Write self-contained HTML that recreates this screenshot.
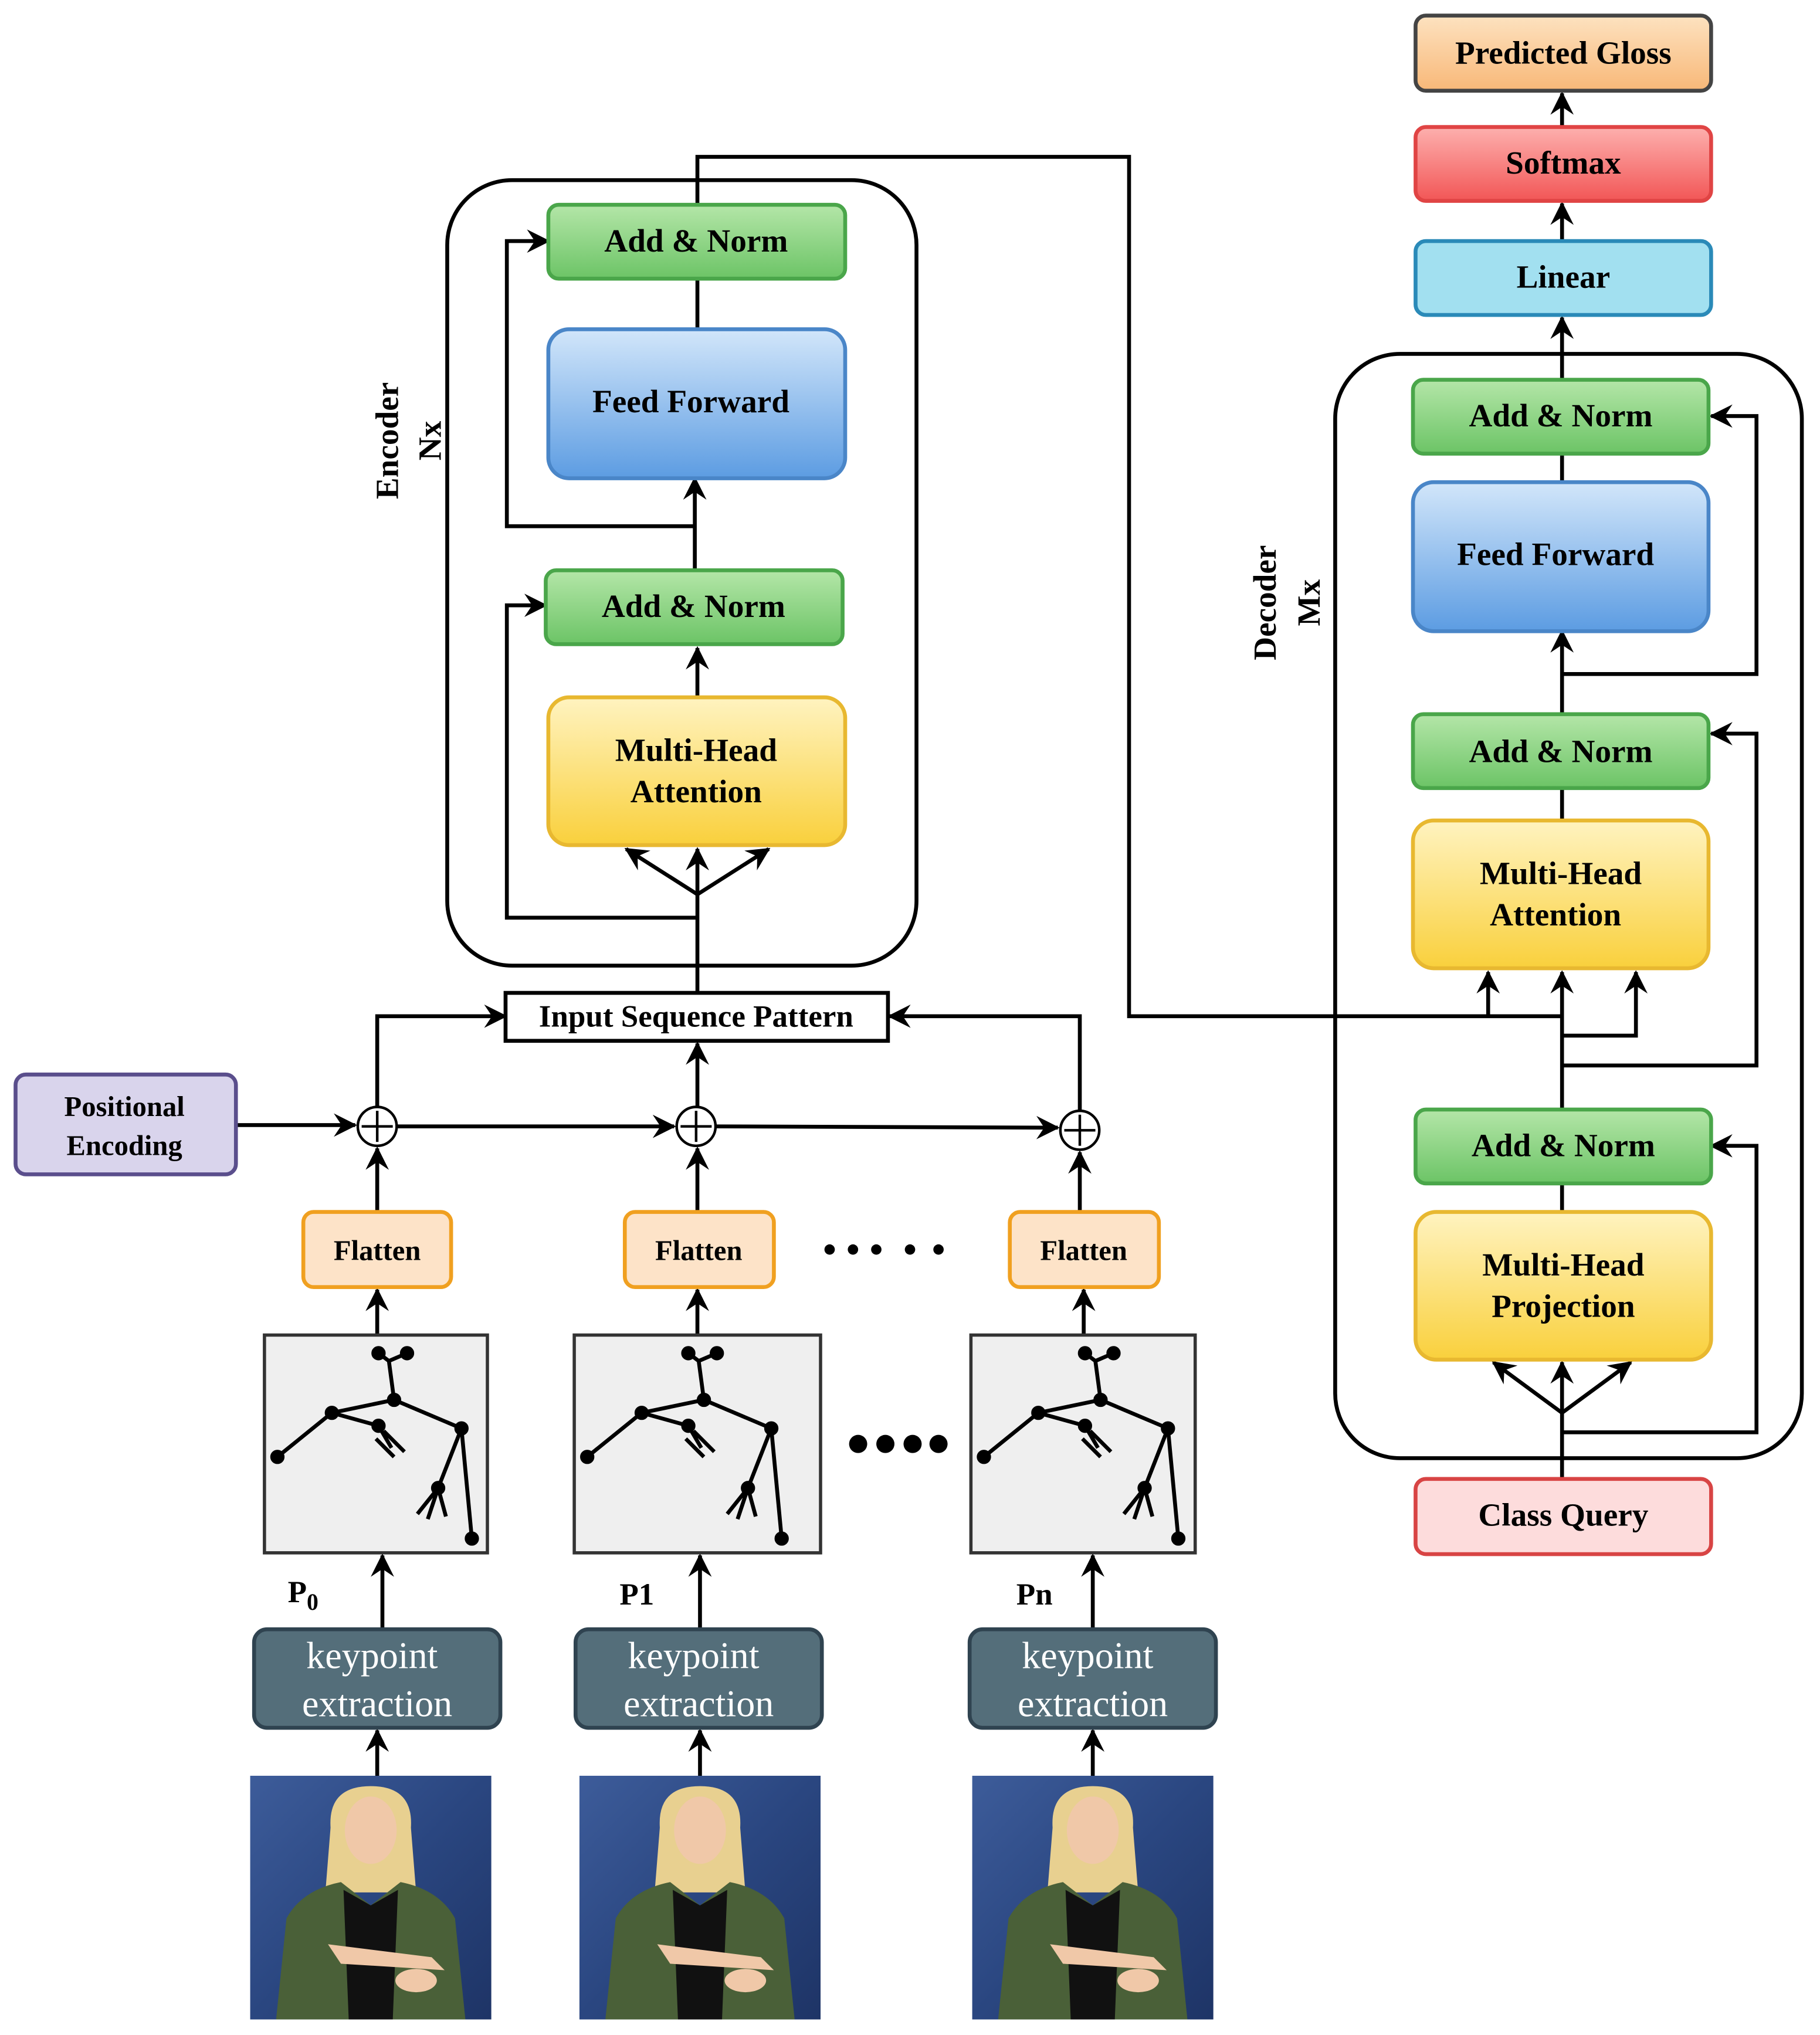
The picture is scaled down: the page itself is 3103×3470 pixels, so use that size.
<!DOCTYPE html>
<html><head><meta charset="utf-8"><style>html,body{margin:0;padding:0;background:#fff}svg{display:block}</style></head><body>
<svg width="3103" height="3470" viewBox="0 0 1404 1570" preserveAspectRatio="none" xmlns="http://www.w3.org/2000/svg" font-family="Liberation Serif, serif">
<defs>
<marker id="a" viewBox="0 0 12 12" refX="11" refY="6" markerWidth="7" markerHeight="7" orient="auto" markerUnits="userSpaceOnUse"><path d="M0,0 L12,6 L0,12 L4,6 z" fill="#000"/></marker>
<marker id="b" viewBox="0 0 12 12" refX="11" refY="6" markerWidth="18" markerHeight="18" orient="auto" markerUnits="userSpaceOnUse"><path d="M0,0 L12,6 L0,12 L4,6 z" fill="#000"/></marker>
<linearGradient id="g" x1="0" y1="0" x2="0" y2="1"><stop offset="0" stop-color="#b4e6a8"/><stop offset="1" stop-color="#6cc466"/></linearGradient>
<linearGradient id="bl" x1="0" y1="0" x2="0" y2="1"><stop offset="0" stop-color="#d2e6fa"/><stop offset="1" stop-color="#5c9ce2"/></linearGradient>
<linearGradient id="y" x1="0" y1="0" x2="0" y2="1"><stop offset="0" stop-color="#fff3c0"/><stop offset="1" stop-color="#f9d03c"/></linearGradient>
<linearGradient id="r" x1="0" y1="0" x2="0" y2="1"><stop offset="0" stop-color="#fdb0ae"/><stop offset="1" stop-color="#f25656"/></linearGradient>
<linearGradient id="o" x1="0" y1="0" x2="0" y2="1"><stop offset="0" stop-color="#fde2c0"/><stop offset="1" stop-color="#f8b878"/></linearGradient>
<linearGradient id="ph" x1="0" y1="0" x2="1" y2="1"><stop offset="0" stop-color="#3d5c9a"/><stop offset="0.5" stop-color="#2a4680"/><stop offset="1" stop-color="#1e3466"/></linearGradient>
<g id="photo">
<rect x="0" y="0" width="186" height="188" fill="url(#ph)"/>
<path d="M62,40 Q60,8 93,8 Q126,8 124,40 L128,90 L58,90 Z" fill="#e8d090"/>
<ellipse cx="93" cy="42" rx="20" ry="26" fill="#f0c8a8"/>
<path d="M20,188 L28,110 Q40,88 70,82 L93,100 L116,82 Q146,88 158,110 L166,188 Z" fill="#4a6038"/>
<path d="M72,88 L93,100 L114,88 L110,188 L76,188 Z" fill="#111"/>
<path d="M60,130 L140,140 L150,150 L70,145 Z" fill="#f0c8a8"/>
<ellipse cx="128" cy="158" rx="16" ry="9" fill="#f0c8a8"/>
</g>
<g id="skel" stroke="#000" stroke-width="3" fill="#000">
<path d="M10,92 L52,58 L100,48 L152,70 L160,155" fill="none"/>
<path d="M100,48 L96,18 M88,12 L96,18 L110,12" fill="none"/>
<path d="M52,58 L88,68 L98,85 M92,72 L108,88 M86,78 L100,92" fill="none"/>
<path d="M152,70 L134,116 L118,136 M134,116 L126,140 M134,116 L140,138" fill="none"/>
<circle cx="10" cy="92" r="4"/><circle cx="52" cy="58" r="4"/><circle cx="100" cy="48" r="4"/><circle cx="152" cy="70" r="4"/><circle cx="160" cy="155" r="4"/><circle cx="88" cy="12" r="4"/><circle cx="110" cy="12" r="4"/><circle cx="134" cy="116" r="4"/><circle cx="88" cy="68" r="4"/>
</g>
</defs>
<rect width="1404" height="1570" fill="#fff"/>

<!-- Encoder container -->
<rect x="345" y="139" width="362" height="606" rx="50" fill="none" stroke="#000" stroke-width="3"/>
<!-- Decoder container -->
<rect x="1030" y="273" width="360" height="852" rx="50" fill="none" stroke="#000" stroke-width="3"/>

<g stroke="#000" stroke-width="3" fill="none">
<!-- encoder -->
<path d="M538,766 L538,655" marker-end="url(#b)"/>
<path d="M538,690 L483,655" marker-end="url(#b)"/>
<path d="M538,690 L593,655" marker-end="url(#b)"/>
<path d="M538,708 L391,708 L391,467 L421,467" marker-end="url(#b)"/>
<path d="M538,538 L538,500" marker-end="url(#b)"/>
<path d="M536,440 L536,369" marker-end="url(#b)"/>
<path d="M536,406 L391,406 L391,186 L423,186" marker-end="url(#b)"/>
<path d="M538,254 L538,215"/>
<path d="M538,158 L538,121 L871,121 L871,784 L1205,784"/>
<path d="M1148,784 L1148,750" marker-end="url(#b)"/>
<path d="M1205,856 L1205,750" marker-end="url(#b)"/>
<path d="M1205,799 L1262,799 L1262,750" marker-end="url(#b)"/>
<path d="M1205,822 L1355,822 L1355,566 L1320,566" marker-end="url(#b)"/>
<path d="M1205,633 L1205,608"/>
<path d="M1205,551 L1205,487" marker-end="url(#b)"/>
<path d="M1205,520 L1355,520 L1355,321 L1320,321" marker-end="url(#b)"/>
<path d="M1205,372 L1205,350"/>
<path d="M1205,293 L1205,245" marker-end="url(#b)"/>
<path d="M1205,186 L1205,157" marker-end="url(#b)"/>
<path d="M1205,98 L1205,72" marker-end="url(#b)"/>
<path d="M1205,1141 L1205,1051" marker-end="url(#b)"/>
<path d="M1205,1090 L1152,1051" marker-end="url(#b)"/>
<path d="M1205,1090 L1258,1051" marker-end="url(#b)"/>
<path d="M1205,1105 L1355,1105 L1355,884 L1320,884" marker-end="url(#b)"/>
<path d="M1205,935 L1205,913"/>
<!-- bottom -->
<path d="M291,854 L291,784 L390,784" marker-end="url(#b)"/>
<path d="M538,854 L538,805" marker-end="url(#b)"/>
<path d="M833,857 L833,784 L686,784" marker-end="url(#b)"/>
<path d="M182,868 L274,868" marker-end="url(#b)"/>
<path d="M306,869 L520,869" marker-end="url(#b)"/>
<path d="M552,869 L816,870" marker-end="url(#b)"/>
<path d="M291,935 L291,886" marker-end="url(#b)"/>
<path d="M538,935 L538,886" marker-end="url(#b)"/>
<path d="M833,935 L833,889" marker-end="url(#b)"/>
<path d="M291,1030 L291,995" marker-end="url(#b)"/>
<path d="M538,1030 L538,995" marker-end="url(#b)"/>
<path d="M836,1030 L836,995" marker-end="url(#b)"/>
<path d="M295,1257 L295,1200" marker-end="url(#b)"/>
<path d="M540,1257 L540,1200" marker-end="url(#b)"/>
<path d="M843,1257 L843,1200" marker-end="url(#b)"/>
<path d="M291,1370 L291,1335" marker-end="url(#b)"/>
<path d="M540,1370 L540,1335" marker-end="url(#b)"/>
<path d="M843,1370 L843,1335" marker-end="url(#b)"/>
</g>

<!-- circles -->
<g stroke="#000" stroke-width="2" fill="#fff">
<circle cx="291" cy="869" r="15"/><circle cx="537" cy="869" r="15"/><circle cx="833" cy="872" r="15"/>
<path d="M279,869 H303 M291,857 V881 M525,869 H549 M537,857 V881 M821,872 H845 M833,860 V884" fill="none"/>
</g>

<g stroke-width="3" font-weight="bold" font-size="25" text-anchor="middle">
<rect x="1092" y="12" width="228" height="58" rx="8" fill="url(#o)" stroke="#444"/>
<text x="1206" y="49">Predicted Gloss</text>
<rect x="1092" y="98" width="228" height="57" rx="8" fill="url(#r)" stroke="#e04444"/>
<text x="1206" y="134">Softmax</text>
<rect x="1092" y="186" width="228" height="57" rx="8" fill="#a2e0f0" stroke="#2a8ab8"/>
<text x="1206" y="222">Linear</text>

<rect x="1090" y="293" width="228" height="57" rx="8" fill="url(#g)" stroke="#4aa64a"/>
<text x="1204" y="329">Add &amp; Norm</text>
<rect x="1090" y="372" width="228" height="115" rx="16" fill="url(#bl)" stroke="#4a86c8"/>
<text x="1200" y="436">Feed Forward</text>
<rect x="1090" y="551" width="228" height="57" rx="8" fill="url(#g)" stroke="#4aa64a"/>
<text x="1204" y="588">Add &amp; Norm</text>
<rect x="1090" y="633" width="228" height="114" rx="16" fill="url(#y)" stroke="#e8b830"/>
<text x="1204" y="682">Multi-Head</text><text x="1200" y="714">Attention</text>
<rect x="1092" y="856" width="228" height="57" rx="8" fill="url(#g)" stroke="#4aa64a"/>
<text x="1206" y="892">Add &amp; Norm</text>
<rect x="1092" y="935" width="228" height="114" rx="16" fill="url(#y)" stroke="#e8b830"/>
<text x="1206" y="984">Multi-Head</text><text x="1206" y="1016">Projection</text>
<rect x="1092" y="1141" width="228" height="58" rx="8" fill="#fddcdc" stroke="#d84444"/>
<text x="1206" y="1177">Class Query</text>

<rect x="423" y="158" width="229" height="57" rx="8" fill="url(#g)" stroke="#4aa64a"/>
<text x="537" y="194">Add &amp; Norm</text>
<rect x="423" y="254" width="229" height="115" rx="16" fill="url(#bl)" stroke="#4a86c8"/>
<text x="533" y="318">Feed Forward</text>
<rect x="421" y="440" width="229" height="57" rx="8" fill="url(#g)" stroke="#4aa64a"/>
<text x="535" y="476">Add &amp; Norm</text>
<rect x="423" y="538" width="229" height="114" rx="16" fill="url(#y)" stroke="#e8b830"/>
<text x="537" y="587">Multi-Head</text><text x="537" y="619">Attention</text>

<rect x="390" y="766" width="295" height="37" fill="#fff" stroke="#000"/>
<text x="537" y="792" font-size="24">Input Sequence Pattern</text>

<rect x="12" y="829" width="170" height="77" rx="8" fill="#d9d4ec" stroke="#5a4e8c"/>
<text x="96" y="861" font-size="22">Positional</text><text x="96" y="891" font-size="22">Encoding</text>

<rect x="234" y="935" width="114" height="58" rx="8" fill="#fde3c8" stroke="#f0a020"/>
<text x="291" y="972" font-size="22">Flatten</text>
<rect x="482" y="935" width="115" height="58" rx="8" fill="#fde3c8" stroke="#f0a020"/>
<text x="539" y="972" font-size="22">Flatten</text>
<rect x="779" y="935" width="115" height="58" rx="8" fill="#fde3c8" stroke="#f0a020"/>
<text x="836" y="972" font-size="22">Flatten</text>
</g>

<text x="0" y="0" font-weight="bold" font-size="25" text-anchor="middle" transform="translate(307,340) rotate(-90)">Encoder</text>
<text x="0" y="0" font-weight="bold" font-size="25" text-anchor="middle" transform="translate(340,340) rotate(-90)">Nx</text>
<text x="0" y="0" font-weight="bold" font-size="25" text-anchor="middle" transform="translate(984,465) rotate(-90)">Decoder</text>
<text x="0" y="0" font-weight="bold" font-size="25" text-anchor="middle" transform="translate(1018,465) rotate(-90)">Mx</text>

<g fill="#000"><circle cx="640" cy="964" r="4"/><circle cx="658" cy="964" r="4"/><circle cx="676" cy="964" r="4"/><circle cx="702" cy="964" r="4"/><circle cx="724" cy="964" r="4"/>
<circle cx="662" cy="1114" r="7"/><circle cx="683" cy="1114" r="7"/><circle cx="704" cy="1114" r="7"/><circle cx="724" cy="1114" r="7"/></g>

<!-- skeleton panels -->
<rect x="204" y="1030" width="172" height="168" fill="#efefef" stroke="#333" stroke-width="2.5"/>
<use href="#skel" x="204" y="1032"/>
<rect x="443" y="1030" width="190" height="168" fill="#efefef" stroke="#333" stroke-width="2.5"/>
<use href="#skel" x="443" y="1032"/>
<rect x="749" y="1030" width="173" height="168" fill="#efefef" stroke="#333" stroke-width="2.5"/>
<use href="#skel" x="749" y="1032"/>

<g font-weight="bold" font-size="24"><text x="222" y="1236">P<tspan font-size="18" dy="6">0</tspan></text><text x="478" y="1238">P1</text><text x="784" y="1238">Pn</text></g>

<g stroke="#2f4350" stroke-width="3" fill="#546e7a">
<rect x="196" y="1257" width="190" height="76" rx="10"/>
<rect x="444" y="1257" width="190" height="76" rx="10"/>
<rect x="748" y="1257" width="190" height="76" rx="10"/>
</g>
<g fill="#fff" font-size="29" text-anchor="middle">
<text x="287" y="1287">keypoint</text><text x="291" y="1324">extraction</text>
<text x="535" y="1287">keypoint</text><text x="539" y="1324">extraction</text>
<text x="839" y="1287">keypoint</text><text x="843" y="1324">extraction</text>
</g>

<use href="#photo" x="193" y="1370"/>
<use href="#photo" x="447" y="1370"/>
<use href="#photo" x="750" y="1370"/>
</svg>
</body></html>
